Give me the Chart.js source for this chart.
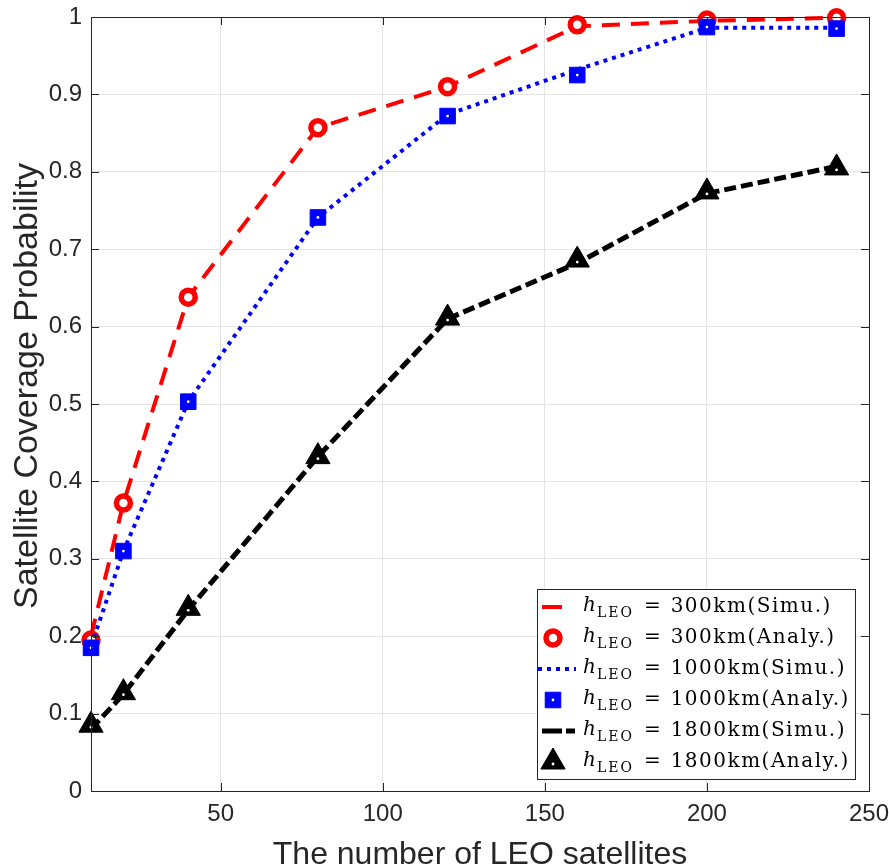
<!DOCTYPE html>
<html><head><meta charset="utf-8">
<script src="https://cdn.jsdelivr.net/npm/chart.js@4/dist/chart.umd.min.js"></script>
<style>html,body{margin:0;padding:0;background:#fff;overflow:hidden}</style>
</head><body>
<canvas id="c" width="889" height="867" style="width:889px;height:867px;display:block"></canvas>
<script>
// ---- data ----
const satellites   = [10, 20, 40, 80, 120, 160, 200, 240];
const cov300Simu   = [0.200, 0.372, 0.638, 0.857, 0.910, 0.988, 0.995, 0.999];
const cov300Analy  = [0.195, 0.372, 0.638, 0.857, 0.910, 0.990, 0.996, 0.999];
const cov1000Simu  = [0.187, 0.310, 0.503, 0.741, 0.874, 0.932, 0.986, 0.986];
const cov1000Analy = [0.185, 0.310, 0.503, 0.741, 0.872, 0.925, 0.987, 0.985];
const cov1800Simu  = [0.080, 0.125, 0.234, 0.432, 0.610, 0.682, 0.772, 0.807];
const cov1800Analy = [0.085, 0.127, 0.236, 0.432, 0.611, 0.686, 0.774, 0.805];
const xTicks = [50, 100, 150, 200, 250];
const yTicks = [0, 0.1, 0.2, 0.3, 0.4, 0.5, 0.6, 0.7, 0.8, 0.9, 1];
const yTickLabels = ['0', '0.1', '0.2', '0.3', '0.4', '0.5', '0.6', '0.7', '0.8', '0.9', '1'];
const legendLabels = ['300km(Simu.)', '300km(Analy.)', '1000km(Simu.)', '1000km(Analy.)', '1800km(Simu.)', '1800km(Analy.)'];
const xTitle = 'The number of LEO satellites';
const yTitle = 'Satellite Coverage Probability';

const pts = ys => satellites.map((x, i) => ({x: x, y: ys[i]}));
const AX = '#262626';
const sans = "'Liberation Sans', Arial, sans-serif";

const lineDs = (label, ys, color, dash, w, ord) => ({
  label, data: pts(ys), showLine: true, borderColor: color, borderWidth: w,
  borderDash: dash, borderCapStyle: 'butt', pointRadius: 0, pointHoverRadius: 0,
  fill: false, clip: false, order: ord, tension: 0, kind: 'line'
});
const markDs = (label, ys, color, style, r, bw, bg, ord) => ({
  label, data: pts(ys), showLine: false, pointStyle: style, pointRadius: r,
  pointBorderWidth: bw, pointBorderColor: color, pointBackgroundColor: bg,
  clip: false, order: ord, kind: 'mark'
});

const datasets = [
  lineDs(legendLabels[0], cov300Simu, '#ff0000', [18, 11], 4, 5),
  markDs(legendLabels[1], cov300Analy, '#ff0000', 'circle', 7, 5.5, '#ffffff', 4),
  lineDs(legendLabels[2], cov1000Simu, '#0000ff', [4, 5], 4, 3),
  markDs(legendLabels[3], cov1000Analy, '#0000ff', 'rect', 11, 1, '#0000ff', 2),
  lineDs(legendLabels[4], cov1800Simu, '#000000', [12, 5], 5, 1),
  markDs(legendLabels[5], cov1800Analy, '#000000', 'triangle', 14, 1, '#000000', 0)
];

const frame = {
  id: 'frame',
  afterDatasetsDraw(chart) {
    const ctx = chart.ctx, a = chart.chartArea;
    const xs = chart.scales.x, ys = chart.scales.y;
    ctx.save();
    ctx.fillStyle = '#ffffff';
    [3, 5].forEach(di => {
      chart.getDatasetMeta(di).data.forEach(el => {
        ctx.beginPath(); ctx.arc(el.x, el.y + (di === 5 ? 2 : 0), 1.4, 0, Math.PI * 2); ctx.fill();
      });
    });
    ctx.restore();
    ctx.save();
    ctx.strokeStyle = AX; ctx.lineWidth = 1;
    ctx.strokeRect(Math.round(a.left) + 0.5, Math.round(a.top) + 0.5,
                   Math.round(a.right - a.left), Math.round(a.bottom - a.top));
    ctx.beginPath();
    xTicks.forEach(v => {
      const px = Math.round(xs.getPixelForValue(v)) + 0.5;
      ctx.moveTo(px, a.bottom); ctx.lineTo(px, a.bottom - 8);
      ctx.moveTo(px, a.top); ctx.lineTo(px, a.top + 8);
    });
    yTicks.forEach(v => {
      const py = Math.round(ys.getPixelForValue(v)) + 0.5;
      ctx.moveTo(a.left, py); ctx.lineTo(a.left + 8, py);
      ctx.moveTo(a.right, py); ctx.lineTo(a.right - 8, py);
    });
    ctx.stroke();
    ctx.restore();
  },
  afterDraw(chart) {
    const ctx = chart.ctx, a = chart.chartArea;
    // y axis title
    ctx.save();
    ctx.translate(28, 386);
    ctx.rotate(-Math.PI / 2);
    ctx.font = "34px " + sans;
    ctx.fillStyle = AX; ctx.textAlign = 'center'; ctx.textBaseline = 'middle';
    ctx.fillText(yTitle, 0, 0);
    ctx.restore();

    // legend
    const mainFont = "20px 'DejaVu Serif', serif";
    const itFont = "italic 20px 'DejaVu Serif', serif";
    const subFont = "14px 'DejaVu Serif', serif";
    ctx.save();
    const bw = 318, bh = 190;
    const right = Math.round(a.right) - 14, bottom = Math.round(a.bottom) - 12;
    const left = right - bw, top = bottom - bh;
    ctx.fillStyle = '#ffffff';
    ctx.fillRect(left, top, bw, bh);
    ctx.strokeStyle = AX; ctx.lineWidth = 1;
    ctx.strokeRect(left + 0.5, top + 0.5, bw, bh);
    datasets.forEach((ds, i) => {
      const cy = top + 18 + i * 31;
      const sx = left + 16;
      if (ds.kind === 'line') {
        ctx.save();
        ctx.strokeStyle = ds.borderColor; ctx.lineWidth = ds.borderWidth;
        ctx.lineCap = 'butt';
        if (i === 0) { ctx.setLineDash([]); ctx.beginPath(); ctx.moveTo(left + 5, cy); ctx.lineTo(left + 25, cy); ctx.stroke(); }
        else if (i === 2) { ctx.setLineDash([4, 5]); ctx.beginPath(); ctx.moveTo(left + 1, cy); ctx.lineTo(left + 39, cy); ctx.stroke(); }
        else { ctx.setLineDash([20, 4]); ctx.beginPath(); ctx.moveTo(left + 5, cy); ctx.lineTo(left + 38, cy); ctx.stroke(); }
        ctx.restore();
      } else {
        ctx.save();
        ctx.fillStyle = ds.pointBackgroundColor; ctx.strokeStyle = ds.pointBorderColor;
        ctx.lineWidth = ds.pointBorderWidth;
        Chart.helpers.drawPoint(ctx, {pointStyle: ds.pointStyle, radius: ds.pointRadius, borderWidth: ds.pointBorderWidth}, sx, cy);
        ctx.restore();
        if (i !== 1) { ctx.fillStyle = '#fff'; ctx.beginPath(); ctx.arc(sx, cy + (i === 5 ? 2 : 0), 1.4, 0, Math.PI * 2); ctx.fill(); }
      }
      let tx = left + 46;
      ctx.fillStyle = '#000'; ctx.textBaseline = 'middle'; ctx.textAlign = 'left';
      ctx.letterSpacing = '0px';
      ctx.font = itFont; ctx.fillText('h', tx, cy - 1); tx += ctx.measureText('h').width + 1;
      ctx.font = subFont; ctx.letterSpacing = '2px'; ctx.fillText('LEO', tx, cy + 6); tx += ctx.measureText('LEO').width;
      ctx.letterSpacing = '0px';
      ctx.font = mainFont; tx += 10; ctx.fillText('=', tx, cy); tx += ctx.measureText('=').width + 10;
      ctx.letterSpacing = '1.5px';
      ctx.fillText(ds.label, tx, cy);
      ctx.letterSpacing = '0px';
    });
    ctx.restore();
  }
};

new Chart(document.getElementById('c'), {
  type: 'scatter',
  data: {datasets},
  options: {
    responsive: false, animation: false, devicePixelRatio: 1,
    layout: {padding: {top: 17, right: 20, left: 0, bottom: 0}},
    plugins: {legend: {display: false}, tooltip: {enabled: false}},
    scales: {
      x: {
        type: 'linear', min: 10, max: 250,
        afterBuildTicks: s => { s.ticks = xTicks.map(v => ({value: v})); },
        afterFit: s => { s.height = 76; s.paddingLeft = 0; s.paddingRight = 0; },
        ticks: {color: AX, font: {family: sans, size: 24}, padding: 9, maxRotation: 0, autoSkip: false},
        grid: {color: '#e3e3e3', lineWidth: 1, drawTicks: false},
        border: {display: false},
        title: {display: true, text: xTitle, color: AX, font: {family: sans, size: 32, lineHeight: 0.72}, padding: {top: 0, bottom: 0}}
      },
      y: {
        type: 'linear', min: 0, max: 1,
        afterBuildTicks: s => { s.ticks = yTicks.map(v => ({value: v})); },
        afterFit: s => { s.width = 91; s.paddingTop = 0; s.paddingBottom = 0; },
        ticks: {color: AX, font: {family: sans, size: 24}, padding: 9, autoSkip: false,
                callback: (v) => { const i = yTicks.findIndex(t => Math.abs(t - v) < 1e-9); return i >= 0 ? yTickLabels[i] : ''; }},
        grid: {color: '#e3e3e3', lineWidth: 1, drawTicks: false},
        border: {display: false},
        title: {display: false}
      }
    }
  },
  plugins: [frame]
});
</script>
</body></html>
